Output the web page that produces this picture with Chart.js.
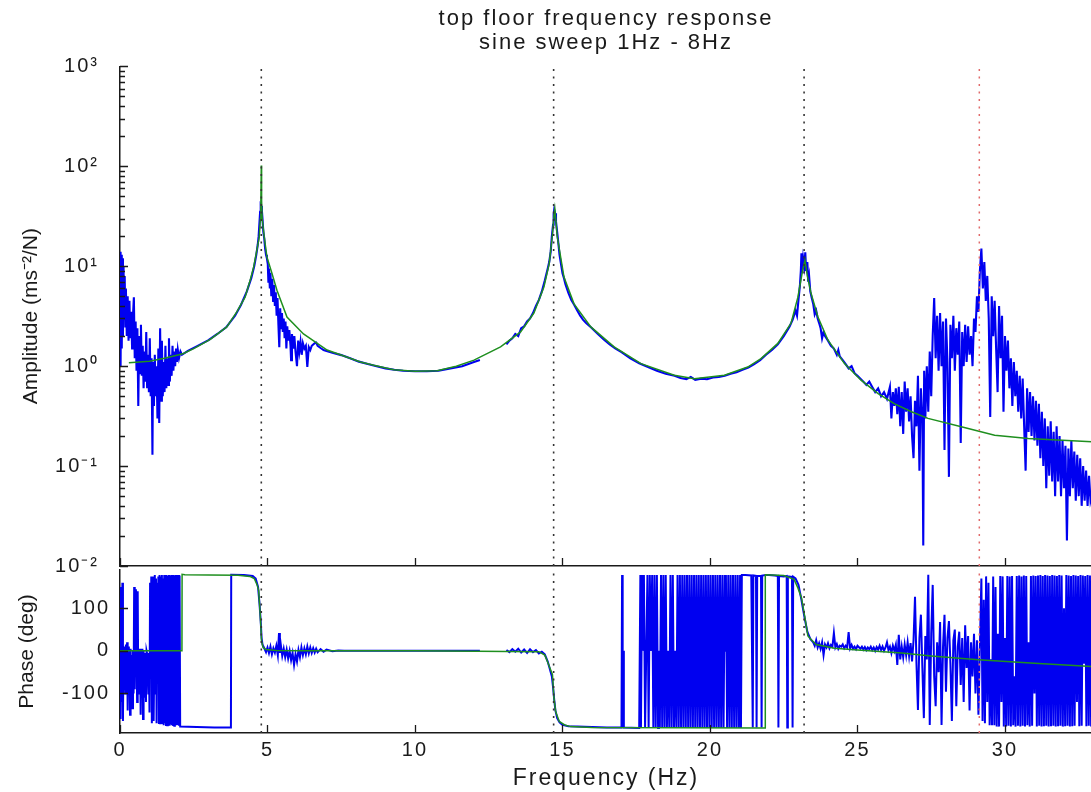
<!DOCTYPE html>
<html><head><meta charset="utf-8">
<script src="https://cdn.jsdelivr.net/npm/chart.js@4.4.1/dist/chart.umd.min.js"></script>
<style>
html,body{margin:0;padding:0;background:#fff;overflow:hidden;width:1091px;height:792px;}
canvas{position:absolute;left:0;}
#amp{top:0;}
#ph{top:548px;}
</style></head><body>
<canvas id="amp" width="1092" height="599"></canvas>
<canvas id="ph" width="1092" height="244"></canvas>
<script>
// ---------- text ----------
const titleLines = ['top floor frequency response', 'sine sweep 1Hz - 8Hz'];
const ampAxisTitle = 'Amplitude (ms\u207B\u00B2/N)';
const phaseAxisTitle = 'Phase (deg)';
const freqAxisTitle = 'Frequency (Hz)';

// ---------- axes ----------
const freqRange = [0, 32.95];
const freqTickValues = [0, 5, 10, 15, 20, 25, 30];
const ampRange = [0.01, 1000];
const ampTickValues = [0.01, 0.1, 1, 10, 100, 1000];
const ampTickLabels = ['10\u207B\u00B2', '10\u207B\u00B9', '10\u2070', '10\u00B9', '10\u00B2', '10\u00B3'];
const phaseRange = [-193, 190];
const phaseTickValues = [-100, 0, 100];

// ---------- mode markers (Hz) ----------
const modeHz = [4.79, 14.70, 23.19];
const extraHz = [29.13];

// ---------- measured amplitude [Hz, ms^-2/N] ----------
const ampMeasured = [
[0,14],[0.02,1.0],[0.04,13],[0.06,1.5],[0.08,12],[0.10,2.0],[0.12,10],[0.14,3],[0.16,8],[0.18,2.5],[0.20,6],[0.23,2],[0.26,5],[0.29,1.8],[0.32,4.5],[0.35,1.9],[0.38,3.5],[0.41,1.5],[0.44,3.2],[0.47,4.9],[0.50,1.2],[0.53,2.8],[0.56,0.9],[0.59,2.4],[0.62,0.4],[0.65,2.0],[0.68,0.85],[0.71,2.6],[0.74,0.8],[0.77,1.6],[0.80,0.6],[0.83,1.4],[0.86,0.7],[0.89,2.2],[0.92,0.6],[0.95,1.3],[0.98,0.55],[1.01,1.9],[1.04,0.5],[1.07,1.2],[1.10,0.13],[1.12,1.1],[1.15,0.4],[1.18,1.3],[1.21,0.5],[1.24,1.0],[1.27,0.3],[1.30,1.5],[1.33,0.27],[1.36,2.4],[1.39,0.45],[1.42,1.8],[1.45,0.5],[1.48,1.1],[1.51,0.55],[1.54,1.6],[1.57,0.6],[1.60,1.2],[1.63,0.65],[1.66,1.9],[1.69,0.7],[1.72,1.3],[1.75,0.8],[1.78,1.6],[1.81,0.9],[1.84,1.4],[1.87,1.0],[1.90,1.5],[1.93,1.1],[1.96,1.45],[2.00,1.2],[2.05,1.4],[2.10,1.3],
[2.3,1.42],[2.6,1.58],[3.0,1.82],[3.3,2.1],[3.6,2.45],[3.9,3.2],[4.1,4.1],[4.3,5.6],[4.45,7.6],[4.55,10],
[4.62,13],[4.67,16.5],[4.70,20],[4.73,28],[4.75,35],[4.77,41],[4.79,40],[4.81,36],[4.83,30],[4.86,22],[4.89,19],[4.92,15],[4.95,13],[4.98,12],[5.01,10.5],[5.03,7],[5.05,9.5],[5.08,6],[5.10,8.6],[5.13,5],[5.16,7.5],[5.19,4.5],[5.22,6.5],[5.25,4],[5.28,5.5],[5.31,3.2],[5.34,4.8],[5.37,2.6],[5.40,1.55],[5.43,3.8],[5.46,2.4],[5.49,3.4],[5.52,2.2],[5.55,3.0],[5.58,1.9],[5.61,2.8],[5.64,1.5],[5.67,2.5],[5.70,1.8],[5.74,2.3],[5.78,1.6],[5.80,1.15],[5.83,2.1],[5.87,1.5],[5.91,2.0],[5.95,1.4],[6.00,1.0],[6.04,1.8],[6.08,1.4],[6.12,1.75],[6.16,1.3],[6.20,1.7],[6.25,1.5],[6.30,1.6],[6.35,0.98],[6.40,1.55],[6.45,1.45],[6.50,1.6],[6.55,1.65],[6.60,1.7],[6.65,1.72],[6.70,1.6],[6.80,1.52],[6.90,1.45],[7.0,1.42],[7.2,1.36],
[7.5,1.29],[7.8,1.2],[8.1,1.11],[8.4,1.05],[8.7,1.0],[9.0,0.95],[9.3,0.92],[9.6,0.9],[10.0,0.89],[10.4,0.89],[10.8,0.9],[11.2,0.95],[11.6,1.0],[12.0,1.1],[12.2,1.15],[12.6,null],
[13.1,1.65],[13.2,1.8],[13.3,1.9],[13.4,2.1],[13.5,2.0],[13.6,2.4],[13.7,2.5],[13.8,2.8],[13.9,3.0],[14.0,3.4],[14.1,4.0],[14.2,4.6],[14.3,5.6],[14.4,7.2],[14.5,9.5],[14.55,11],[14.6,14],[14.64,20],[14.68,26],[14.7,33],[14.72,37],[14.75,34],[14.78,28],[14.82,22],[14.86,17],[14.9,13],[14.95,10.5],[15.0,8.5],[15.05,7.6],[15.1,6.6],[15.2,5.4],[15.3,4.6],[15.4,4.1],[15.5,3.6],[15.6,3.2],[15.7,2.9],[15.8,2.7],[16.0,2.4],[16.2,2.1],[16.4,1.85],[16.6,1.65],[16.8,1.5],[17.0,1.38],[17.3,1.2],[17.6,1.07],[17.9,0.98],[18.2,0.9],[18.5,0.84],[18.8,0.8],[19.0,0.76],[19.2,0.74],[19.35,0.78],[19.5,0.73],[19.7,0.75],[19.9,0.74],[20.1,0.77],[20.3,0.78],[20.5,0.8],[20.7,0.84],[20.9,0.87],[21.1,0.92],[21.3,0.97],[21.5,1.05],[21.7,1.15],[21.9,1.3],[22.1,1.45],[22.3,1.65],[22.5,2.0],[22.7,2.5],[22.8,2.9],[22.9,3.6],[22.95,3.2],[23.0,4.6],[23.05,6.5],[23.08,9],[23.1,13.5],[23.13,8.5],[23.16,12],[23.2,10],[23.23,13.8],[23.26,9],[23.3,11],[23.33,7],[23.36,8],[23.4,5.6],[23.45,4.8],[23.5,4.2],[23.55,3.3],[23.6,3.6],[23.65,3.0],[23.7,2.7],[23.75,2.4],[23.8,1.9],[23.85,2.2],[23.9,2.0],[24.0,1.8],[24.1,1.6],[24.2,1.5],[24.3,1.3],[24.35,1.45],[24.4,1.25],[24.5,1.15],[24.6,1.05],[24.7,0.95],[24.8,1.0],[24.9,0.85],[25.0,0.8],[25.1,0.75],[25.2,0.7],[25.3,0.65],[25.4,0.7],
[25.5,0.62],[25.6,0.55],[25.7,0.6],[25.8,0.5],[25.9,0.55],[26.0,0.47],[26.1,0.62],[26.15,0.3],[26.2,0.55],[26.25,0.4],[26.3,0.6],[26.35,0.33],[26.4,0.62],[26.45,0.25],[26.5,0.55],[26.55,0.21],[26.6,0.7],[26.65,0.35],[26.7,0.6],[26.75,0.28],[26.8,0.5],[26.85,0.2],[26.9,0.12],[26.95,0.45],[27.0,0.25],[27.05,0.8],[27.1,0.09],[27.15,0.6],[27.2,0.3],[27.23,0.016],[27.26,0.9],[27.3,0.3],[27.35,1.0],[27.4,0.35],[27.45,1.4],[27.5,0.5],[27.55,2.0],[27.6,4.8],[27.65,1.2],[27.7,3.2],[27.75,0.9],[27.8,3.4],[27.85,1.0],[27.9,2.8],[27.95,0.145],[28.0,3.0],[28.05,1.1],[28.1,0.078],[28.15,2.6],[28.2,1.2],[28.25,3.2],[28.3,0.9],[28.35,2.4],[28.4,1.3],[28.45,2.8],[28.5,0.17],[28.55,2.2],[28.6,1.0],[28.65,2.6],[28.7,1.1],[28.75,2.5],[28.8,1.3],[28.85,2.0],[28.9,1.0],[28.95,3.0],[29.0,2.2],[29.05,5],[29.1,3.5],[29.15,9],[29.2,15],[29.25,6],[29.3,11],[29.35,4.5],[29.4,8],[29.45,3.0],[29.5,0.31],[29.55,5],[29.6,2.0],[29.65,4.5],[29.7,1.5],[29.75,0.55],[29.8,4.0],[29.85,1.2],[29.9,3.2],[29.95,0.35],[30.0,2.0],[30.05,0.9],[30.1,1.8],[30.15,0.6],[30.2,1.2],[30.25,0.4],[30.3,1.1],[30.35,0.5],[30.4,0.9],[30.45,0.35],[30.5,0.8],[30.55,0.3],[30.6,0.75],[30.65,0.25],[30.7,0.09],[30.75,0.6],[30.8,0.22],[30.85,0.55],[30.9,0.2],[30.95,0.5],[31.0,0.18],[31.05,0.45],[31.1,0.16],[31.15,0.42],[31.2,0.12],[31.25,0.35],[31.3,0.1],[31.35,0.3],[31.4,0.06],[31.45,0.25],[31.5,0.08],[31.55,0.28],[31.6,0.07],[31.65,0.22],[31.7,0.05],[31.75,0.25],[31.8,0.07],[31.85,0.2],[31.9,0.05],[31.95,0.18],[32.0,0.06],[32.05,0.16],[32.1,0.018],[32.15,0.15],[32.2,0.05],[32.25,0.18],[32.3,0.06],[32.35,0.14],[32.4,0.045],[32.45,0.13],[32.5,0.05],[32.55,0.12],[32.6,0.04],[32.65,0.1],[32.7,0.045],[32.75,0.09],[32.8,0.04],[32.85,0.08],[32.9,0.045],[33.0,0.06]
];

// ---------- fitted amplitude [Hz, ms^-2/N] ----------
const ampFit = [
[0.3,1.08],[1.0,1.12],[1.5,1.2],[2.0,1.3],[2.15,1.34],[2.5,1.5],[3.06,1.85],[3.62,2.47],[3.96,3.5],[4.24,4.9],[4.41,7.2],[4.53,9.8],[4.64,14.5],[4.72,19.6],[4.76,30],[4.775,45],[4.79,102],[4.80,45],[4.82,30],[4.89,19.6],[4.98,12.4],[5.15,8.5],[5.32,5.75],[5.66,3.1],[6.22,2.1],[7.02,1.45],[7.47,1.3],[8.15,1.1],[8.6,1.02],[9.28,0.92],[10.0,0.89],[10.75,0.9],[11.4,1.0],[12.0,1.15],[12.9,1.56],[13.58,2.2],[14.03,3.4],[14.37,6.2],[14.55,10.6],[14.66,21],[14.71,32],[14.74,37.7],[14.77,30],[14.82,20],[14.88,15.6],[15.05,7.8],[15.39,4.2],[15.96,2.47],[16.75,1.56],[17.66,1.06],[18.79,0.81],[19.47,0.75],[20.49,0.81],[21.28,0.98],[21.73,1.19],[22.3,1.69],[22.75,2.7],[22.98,4.9],[23.14,9.1],[23.22,11.5],[23.3,8],[23.43,5.3],[23.66,3.1],[24.0,1.82],[24.56,1.06],[25.13,0.72],[25.7,0.53],[26.26,0.42],[26.83,0.35],[27.39,0.3],[28.52,0.247],[29.65,0.204],[30.79,0.189],[32.94,0.175],[33.0,0.174]
];

// ---------- measured phase [Hz, deg] ----------
const phaseMeasured = [
[0.00,150],[0.02,-160],[0.04,10],[0.06,-120],[0.08,160],[0.10,-165],[0.12,5],[0.14,-90],[0.16,10],[0.18,-100],[0.20,15],[0.22,-60],[0.24,20],[0.26,-140],[0.28,10],[0.30,-95],[0.32,-5],[0.34,-150],[0.36,5],[0.38,-80],[0.40,-10],[0.42,-135],[0.44,0],[0.46,-100],[0.48,150],[0.50,-90],[0.52,145],[0.54,-60],[0.56,5],[0.58,-120],[0.60,140],[0.62,-100],[0.64,0],[0.66,-80],[0.68,5],[0.70,-150],[0.72,-5],[0.74,-95],[0.76,5],[0.78,-160],[0.80,0],[0.82,-110],[0.86,-5],[0.88,-120],[0.90,0],[0.93,-10],[0.96,-100],[0.98,-5],[1.00,-145],[1.02,160],[1.04,-60],[1.06,175],[1.08,-170],[1.10,-30],[1.12,175],[1.14,-165],[1.16,-40],[1.18,178],[1.20,-100],[1.22,170],[1.24,-170],[1.26,160],[1.28,-70],[1.30,175],[1.32,-172],[1.34,178],[1.36,-170],[1.38,175],[1.40,-30],[1.42,178],[1.44,-172],[1.46,170],[1.48,-175],[1.50,178],[1.52,-170],[1.54,175],[1.56,-174],[1.58,178],[1.60,-175],[1.62,176],[1.64,-172],[1.66,178],[1.68,-176],[1.70,177],[1.72,-173],[1.74,178],[1.76,-175],[1.78,176],[1.80,-174],[1.82,178],[1.84,-176],[1.86,177],[1.88,-173],[1.90,178],[1.92,-175],[1.94,176],[1.96,-174],[1.98,178],[2.00,-176],[2.02,177],[2.04,-178],
[2.6,-179],[3.2,-180],[3.76,-180],[3.77,179],[4.2,178],[4.5,176],[4.6,170],[4.68,150],[4.73,110],[4.77,70],[4.80,30],[4.83,15],
[4.85,12],[4.90,5],[4.95,-3],[5.00,8],[5.05,-5],[5.10,10],[5.15,-8],[5.20,6],[5.25,-4],[5.30,12],[5.35,-10],[5.39,42],[5.42,-5],[5.45,15],[5.50,-12],[5.55,5],[5.60,-15],[5.65,3],[5.70,-18],[5.75,0],[5.80,-22],[5.85,-5],[5.90,-33],[5.95,-8],[6.00,-25],[6.05,2],[6.10,-15],[6.15,8],[6.20,-10],[6.25,6],[6.30,-8],[6.35,10],[6.40,-6],[6.45,8],[6.50,-5],[6.55,6],[6.60,-4],[6.65,5],[6.70,-3],[6.80,4],[6.90,-2],[7.00,3],[7.20,-1],[7.40,1],[7.60,0],[9.0,0],[12.2,0],[12.6,null],
[13.1,2],[13.2,-3],[13.3,4],[13.4,-2],[13.5,5],[13.6,-4],[13.7,3],[13.8,-5],[13.9,4],[14.0,-3],[14.1,2],[14.2,-6],[14.3,-2],[14.4,-8],[14.5,-25],[14.58,-45],[14.64,-60],[14.68,-85],[14.72,-115],[14.76,-140],[14.82,-158],[14.9,-168],[15.0,-174],[15.2,-177],[15.5,-178],[16.0,-179],[16.5,-180],[17.0,-180],[17.02,178],[17.04,-180],[17.06,0],[17.08,-180],[17.6,-181],[17.64,178],[17.66,-180],[17.70,178],[17.72,0],[17.76,178],
[17.80,-181],[17.84,0],[17.88,178],[17.92,-181],[17.96,178],[18.00,0],[18.04,178],[18.08,-181],[18.12,178],[18.16,-181],[18.20,178],[18.24,-181],[18.27,0],[18.30,-181],[18.34,178],[18.38,-181],[18.42,178],[18.46,-181],[18.50,178],[18.54,-181],[18.58,0],[18.62,-181],[18.66,178],[18.70,-181],[18.74,178],[18.78,-181],[18.82,0],[18.86,-181],[18.90,178],[18.94,-181],[18.98,178],[19.02,-181],[19.06,178],[19.10,-181],[19.14,178],[19.18,-181],[19.22,178],[19.26,-181],[19.30,178],[19.34,-181],[19.38,178],[19.42,-181],[19.46,178],[19.50,-181],[19.54,178],[19.58,-181],[19.62,178],[19.66,-181],[19.70,178],[19.74,-181],[19.78,178],[19.82,-181],[19.86,178],[19.90,-181],[19.94,178],[19.98,-181],[20.02,178],[20.06,-181],[20.10,178],[20.14,-181],[20.18,178],[20.22,-181],[20.26,178],[20.30,-181],[20.34,178],[20.38,-181],[20.42,178],[20.46,-181],[20.50,178],[20.52,0],[20.54,178],[20.58,-181],[20.62,178],[20.66,-181],[20.70,178],[20.74,-181],[20.78,178],[20.82,-181],[20.86,178],[20.90,-181],[20.94,178],[20.98,-181],[21.02,178],[21.05,-181],[21.08,178],
[21.2,178],[21.4,177],[21.45,-180],[21.47,177],[21.56,176],[21.58,-180],[21.60,176],[21.73,176],[21.75,-180],[21.77,177],[21.9,178],[22.0,178],[22.2,177],[22.3,176],[22.32,-180],[22.34,176],[22.5,175],[22.6,176],[22.62,-180],[22.64,175],[22.78,174],[22.80,-180],[22.82,174],[22.9,170],[23.0,155],[23.1,120],[23.2,80],[23.3,45],[23.4,28],[23.5,20],
[23.55,12],[23.6,25],[23.65,8],[23.7,18],[23.75,5],[23.8,20],[23.85,-10],[23.9,15],[23.95,8],[24.0,18],[24.05,6],[24.1,14],[24.15,10],[24.2,42],[24.25,8],[24.3,16],[24.35,5],[24.4,12],[24.45,10],[24.5,15],[24.55,6],[24.6,12],[24.65,8],[24.7,44],[24.75,6],[24.8,14],[24.85,5],[24.9,10],[24.95,4],[25.0,12],[25.1,5],[25.15,10],[25.2,3],[25.25,9],[25.3,2],[25.35,8],[25.4,4],[25.45,10],[25.5,2],[25.55,8],[25.6,0],[25.65,9],[25.7,3],[25.75,12],[25.8,2],[25.85,10],[25.9,0],[25.95,8],[26.0,20],[26.05,2],[26.1,10],[26.15,-5],[26.2,12],[26.25,0],[26.3,14],[26.35,-33],[26.4,38],[26.45,-20],[26.5,10],[26.55,-15],[26.6,15],[26.65,-10],[26.7,20],[26.75,-12],[26.8,18],[26.85,-25],[26.9,25],[26.95,127],[27.0,-30],[27.05,-139],[27.1,30],[27.15,85],[27.2,-40],[27.25,-158],[27.3,35],[27.35,-20],[27.4,179],[27.45,-174],[27.5,40],[27.55,155],[27.6,-60],[27.65,-130],[27.7,20],[27.75,-50],[27.8,68],[27.85,-174],[27.9,10],[27.95,85],[28.0,-96],[28.05,30],[28.1,70],[28.15,-30],[28.2,-165],[28.25,25],[28.3,50],[28.35,-130],[28.4,10],[28.45,45],[28.5,-80],[28.55,30],[28.6,-120],[28.65,60],[28.7,-40],[28.75,35],[28.8,-140],[28.85,20],[28.9,-60],[28.95,40],[29.0,-100],[29.05,25],[29.1,-150],[29.15,10],
[29.20,170],[29.24,-165],[29.28,120],[29.32,-170],[29.36,175],[29.40,-120],[29.44,160],[29.48,-175],[29.52,-20],[29.56,-175],[29.60,175],[29.64,-175],[29.68,150],[29.72,-178],[29.76,40],[29.80,-178],[29.84,176],[29.88,-120],[29.92,175],[29.96,-178],[30.00,30],[30.04,-178],[30.08,176],[30.12,-176],[30.16,175],[30.20,-178],[30.24,176],[30.28,-175],[30.32,-60],[30.36,-178],[30.40,176],[30.44,-176],[30.48,177],[30.52,-178],[30.56,175],[30.60,-176],[30.64,177],[30.68,-178],[30.72,176],[30.76,-175],[30.80,20],[30.84,-178],[30.88,176],[30.92,-176],[30.96,177],[31.00,-100],[31.04,176],[31.08,-178],[31.12,177],[31.16,-176],[31.20,178],[31.24,-178],[31.28,176],[31.32,-177],[31.36,178],[31.40,-176],[31.44,177],[31.48,-178],[31.52,176],[31.56,-177],[31.60,178],[31.64,-176],[31.68,177],[31.72,-178],[31.76,176],[31.80,-177],[31.84,178],[31.88,-176],[31.92,177],[31.96,-178],[32.00,100],[32.04,-177],[32.08,178],[32.12,-176],[32.16,177],[32.20,-178],[32.24,176],[32.28,-177],[32.32,178],[32.36,-176],[32.40,177],[32.44,-120],[32.48,176],[32.52,-177],[32.56,178],[32.60,-176],[32.64,177],[32.68,-30],[32.72,176],[32.76,-177],[32.80,178],[32.84,-176],[32.88,177],[32.92,-178],[32.96,176],[33.00,-177]
];

// ---------- fitted phase [Hz, deg] ----------
const phaseFit = [
[0,0],[2.1,0],[2.105,180],[2.2,179],[3.0,178.5],[4.0,177.5],[4.4,175],[4.55,170],[4.65,155],[4.7,142],[4.75,90],[4.8,22],[4.85,8],[4.95,3],[5.3,1],[6.0,0.5],[10.0,0],[14.2,-2],[14.4,-10],[14.49,-25],[14.6,-45],[14.66,-56],[14.71,-110],[14.77,-143],[14.89,-166],[15.1,-175],[15.28,-178],[16.0,-180],[21.87,-181],[21.875,179],[22.5,177],[22.85,168],[22.98,148],[23.1,125],[23.2,85],[23.32,35],[23.45,25],[23.6,15],[24.22,6],[25.0,2],[26.5,-5],[27.5,-12],[29.1,-21],[31.0,-29],[32.94,-37],[33.0,-37]
];

// ---------- styling ----------
const FONT = "'Liberation Sans', Arial, Helvetica, sans-serif";
const INK = '#1a1a1a';
const BLUE = '#0000f0';
const GREEN = '#1f8f1f';
const SPACING = '2px';

const xy = pairs => pairs.map(([x, y]) => ({x, y}));
const markerSets = (lo, hi) => [
  ...modeHz.map(f => ({data: [{x: f, y: lo}, {x: f, y: hi}], borderColor: '#333', borderWidth: 1.6, borderDash: [2, 5.5], pointRadius: 0, order: 0})),
  ...extraHz.map(f => ({data: [{x: f, y: lo}, {x: f, y: hi}], borderColor: '#e06a6a', borderWidth: 1.5, borderDash: [2, 5.5], pointRadius: 0, order: 0}))
];

// horizontal texts are drawn slightly wider (letter spacing); rotated axis titles are not
const spacing = {
  id: 'spacing',
  beforeUpdate(c) { c.ctx.letterSpacing = SPACING; },
  beforeLayout(c) { c.ctx.letterSpacing = SPACING; },
  beforeDraw(c) { c.ctx.letterSpacing = SPACING; }
};
function plainTitle(s) {
  if (s._plainTitle) return;
  s._plainTitle = true;
  const orig = s.drawTitle;
  s.drawTitle = function () {
    const ctx = this.ctx;
    ctx.letterSpacing = '0px';
    orig.apply(this, arguments);
    ctx.letterSpacing = SPACING;
  };
}

const inwardTicks = {
  id: 'inwardTicks',
  afterDraw(chart, args, opts) {
    const {ctx, chartArea: a, scales: {x, y}} = chart;
    ctx.save();
    ctx.strokeStyle = INK;
    ctx.lineWidth = 1.3;
    ctx.beginPath();
    x.ticks.forEach(t => {
      const px = Math.round(x.getPixelForValue(t.value)) + 0.5;
      ctx.moveTo(px, a.bottom); ctx.lineTo(px, a.bottom - 8);
    });
    y.ticks.forEach(t => {
      const py = Math.round(y.getPixelForValue(t.value)) + 0.5;
      ctx.moveTo(a.left, py); ctx.lineTo(a.left + 8, py);
    });
    if (opts.logMinor) {
      for (let i = 0; i < ampTickValues.length - 1; i++) {
        for (let k = 2; k <= 9; k++) {
          const py = Math.round(y.getPixelForValue(ampTickValues[i] * k)) + 0.5;
          ctx.moveTo(a.left, py); ctx.lineTo(a.left + 5, py);
        }
      }
    }
    ctx.stroke();
    ctx.restore();
  }
};

Chart.defaults.font.family = FONT;
Chart.defaults.color = INK;

const lineDefaults = {pointRadius: 0, tension: 0, spanGaps: false};
const freqTicks = s => { s.ticks = freqTickValues.map(v => ({value: v})); };

new Chart(document.getElementById('amp'), {
  type: 'line',
  data: {
    datasets: [
      ...markerSets(ampRange[0], ampRange[1]),
      {...lineDefaults, data: xy(ampFit), borderColor: GREEN, borderWidth: 1.5, order: 1},
      {...lineDefaults, data: xy(ampMeasured), borderColor: BLUE, borderWidth: 2.1, order: 2}
    ]
  },
  options: {
    responsive: false, animation: false, devicePixelRatio: 1,
    layout: {padding: 0},
    plugins: {
      legend: {display: false}, tooltip: {enabled: false},
      title: {display: true, fullSize: false, text: titleLines, color: INK, font: {size: 22, weight: 'normal', lineHeight: 1.1}, padding: {top: 7, bottom: 11}},
      inwardTicks: {logMinor: true}
    },
    scales: {
      x: {
        type: 'linear', min: freqRange[0], max: freqRange[1],
        afterBuildTicks: freqTicks,
        ticks: {display: false},
        grid: {display: false, drawTicks: false},
        border: {display: true, color: INK, width: 1.5},
        afterFit: s => { s.height = 6; }
      },
      y: {
        type: 'logarithmic', min: ampRange[0], max: ampRange[1],
        afterBuildTicks: s => { s.ticks = ampTickValues.map(v => ({value: v})); },
        ticks: {padding: 21, font: {size: 20}, color: INK, callback: (v, i) => ampTickLabels[i]},
        grid: {display: false, drawTicks: false},
        border: {display: true, color: INK, width: 1.5},
        title: {display: true, text: ampAxisTitle, color: INK, font: {size: 21}, padding: {top: 19, bottom: 0}},
        afterFit: s => { s.width = 120; plainTitle(s); }
      }
    }
  },
  plugins: [spacing, inwardTicks]
});

new Chart(document.getElementById('ph'), {
  type: 'line',
  data: {
    datasets: [
      ...markerSets(phaseRange[0], phaseRange[1]),
      {...lineDefaults, data: xy(phaseFit), borderColor: GREEN, borderWidth: 1.5, order: 1},
      {...lineDefaults, data: xy(phaseMeasured), borderColor: BLUE, borderWidth: 2.0, order: 2}
    ]
  },
  options: {
    responsive: false, animation: false, devicePixelRatio: 1,
    layout: {padding: 0},
    plugins: {legend: {display: false}, tooltip: {enabled: false}, inwardTicks: {logMinor: false}},
    scales: {
      x: {
        type: 'linear', min: freqRange[0], max: freqRange[1],
        afterBuildTicks: freqTicks,
        ticks: {padding: 5, font: {size: 20}, color: INK, maxRotation: 0},
        grid: {display: false, drawTicks: false},
        border: {display: true, color: INK, width: 1.5},
        title: {display: true, text: freqAxisTitle, color: INK, font: {size: 23}, padding: {top: 2, bottom: 0}},
        afterFit: s => { s.height = 59; }
      },
      y: {
        type: 'linear', min: phaseRange[0], max: phaseRange[1],
        afterBuildTicks: s => { s.ticks = phaseTickValues.map(v => ({value: v})); },
        ticks: {padding: 10, font: {size: 20}, color: INK},
        grid: {display: false, drawTicks: false},
        border: {display: true, color: INK, width: 1.5},
        title: {display: true, text: phaseAxisTitle, color: INK, font: {size: 21}, padding: {top: 15, bottom: 0}},
        afterFit: s => { s.width = 120; plainTitle(s); }
      }
    }
  },
  plugins: [spacing, inwardTicks]
});
</script>
</body></html>
